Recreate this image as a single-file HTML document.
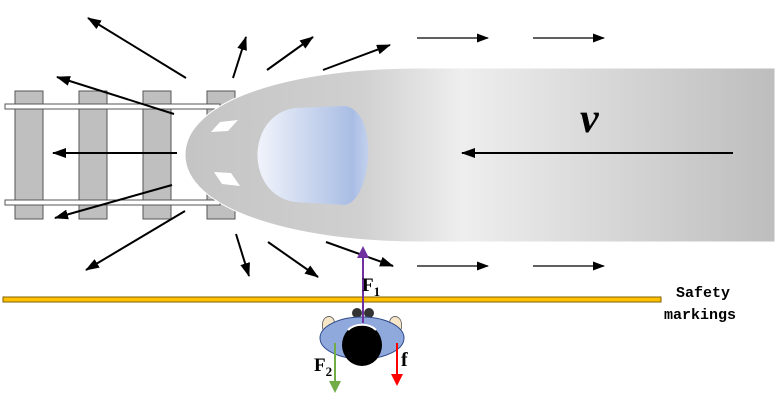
<!DOCTYPE html>
<html><head><meta charset="utf-8"><style>
html,body{margin:0;padding:0;background:#fff;}
svg{display:block;}
</style></head><body>
<svg width="778" height="410" viewBox="0 0 778 410" xmlns="http://www.w3.org/2000/svg">
<defs>
<linearGradient id="tr" x1="185" y1="0" x2="775" y2="0" gradientUnits="userSpaceOnUse">
<stop offset="0" stop-color="#c4c4c4"/><stop offset="0.3" stop-color="#d0d0d0"/><stop offset="0.47" stop-color="#eeeeee"/><stop offset="1" stop-color="#bdbdbd"/>
</linearGradient>
<linearGradient id="ws" x1="253" y1="0" x2="370" y2="0" gradientUnits="userSpaceOnUse">
<stop offset="0" stop-color="#f4f6fc"/><stop offset="0.85" stop-color="#a9bde4"/><stop offset="1" stop-color="#c6d3ee"/>
</linearGradient>
<marker id="ah" markerWidth="14" markerHeight="10" refX="13" refY="5" orient="auto" markerUnits="userSpaceOnUse"><path d="M0,0 L14,5 L0,10 z" fill="#000"/></marker>
<marker id="ahs" markerWidth="12" markerHeight="9" refX="11" refY="4.5" orient="auto" markerUnits="userSpaceOnUse"><path d="M0,0 L12,4.5 L0,9 z" fill="#000"/></marker>
<marker id="ahp" markerWidth="12" markerHeight="12" refX="10" refY="6" orient="auto" markerUnits="userSpaceOnUse"><path d="M0,0 L12,6 L0,12 z" fill="#7030a0"/></marker>
<marker id="ahg" markerWidth="12" markerHeight="12" refX="10" refY="6" orient="auto" markerUnits="userSpaceOnUse"><path d="M0,0 L12,6 L0,12 z" fill="#70ad47"/></marker>
<marker id="ahr" markerWidth="12" markerHeight="12" refX="10" refY="6" orient="auto" markerUnits="userSpaceOnUse"><path d="M0,0 L12,6 L0,12 z" fill="#ff0000"/></marker>
</defs>
<g fill="#bfbfbf" stroke="#555" stroke-width="1">
<rect x="15" y="91" width="28" height="128"/>
<rect x="79" y="91" width="28" height="128"/>
<rect x="143" y="91" width="28" height="128"/>
<rect x="207" y="91" width="28" height="128"/>
</g>
<g fill="#fff" stroke="#555" stroke-width="1">
<rect x="5" y="104" width="215" height="5"/>
<rect x="5" y="200" width="215" height="5"/>
</g>
<path d="M775,68 L420,68 C290,68 185,100 185,155 C185,208 290,242 420,242 L775,242 Z" fill="url(#tr)" stroke="#fff" stroke-width="1"/>
<path d="M345,106 C380,112 372,200 345,205 L295,202 C245,195 245,115 295,108 Z" fill="url(#ws)"/>
<path d="M220,122 L238,120 L228,131 L211,132 Z" fill="#fff"/>
<path d="M214,172 L231,173 L240,186 L222,184 Z" fill="#fff"/>
<g stroke="#000" stroke-width="2" fill="none" marker-end="url(#ah)">
<line x1="186" y1="78" x2="88" y2="18"/>
<line x1="233" y1="78" x2="246" y2="37"/>
<line x1="267" y1="70" x2="313" y2="37"/>
<line x1="323" y1="70" x2="390" y2="45"/>
<line x1="174" y1="114" x2="57" y2="77"/>
<line x1="177" y1="153" x2="53" y2="153"/>
<line x1="172" y1="185" x2="55" y2="218"/>
<line x1="185" y1="211" x2="86" y2="270"/>
<line x1="236" y1="234" x2="249" y2="276"/>
<line x1="268" y1="242" x2="318" y2="277"/>
<line x1="326" y1="242" x2="393" y2="266"/>
<line x1="733" y1="153" x2="462" y2="153"/>
</g>
<g stroke="#000" stroke-width="1.3" fill="none" marker-end="url(#ahs)">
<line x1="417" y1="38" x2="488" y2="38"/>
<line x1="533" y1="38" x2="604" y2="38"/>
<line x1="417" y1="266" x2="488" y2="266"/>
<line x1="533" y1="266" x2="604" y2="266"/>
</g>
<text x="580" y="132" font-family="Liberation Serif, serif" font-style="italic" font-weight="bold" font-size="42">v</text>
<rect x="3" y="297" width="658" height="5" fill="#ffc000" stroke="#7f6000" stroke-width="1"/>
<text x="676" y="297" font-family="Liberation Mono, monospace" font-weight="bold" font-size="15">Safety</text>
<text x="664" y="319" font-family="Liberation Mono, monospace" font-weight="bold" font-size="15">markings</text>
<path d="M324,333 C318,318 330,312 334,320 L336,332 Z" fill="#f5e6c8" stroke="#555" stroke-width="0.8"/>
<path d="M400,333 C406,318 394,312 390,320 L388,332 Z" fill="#f5e6c8" stroke="#555" stroke-width="0.8"/>
<ellipse cx="357" cy="313" rx="5" ry="5" fill="#333"/>
<ellipse cx="369" cy="313" rx="5" ry="5" fill="#333"/>
<ellipse cx="362" cy="338" rx="42" ry="21" fill="#8fa9dc" stroke="#2f4a8a" stroke-width="1"/>
<ellipse cx="362" cy="345" rx="20" ry="21" fill="#000"/>
<path d="M348,330 C355,323 369,323 376,330" stroke="#fff" stroke-width="2" fill="none"/>
<line x1="363" y1="323" x2="363" y2="248" stroke="#7030a0" stroke-width="2" marker-end="url(#ahp)"/>
<line x1="335" y1="343" x2="335" y2="391" stroke="#70ad47" stroke-width="2" marker-end="url(#ahg)"/>
<line x1="397" y1="343" x2="397" y2="384" stroke="#ff0000" stroke-width="2" marker-end="url(#ahr)"/>
<text x="362" y="291" font-family="Liberation Serif, serif" font-weight="bold" font-size="19">F<tspan font-size="13" dy="5">1</tspan></text>
<text x="314" y="371" font-family="Liberation Serif, serif" font-weight="bold" font-size="19">F<tspan font-size="13" dy="5">2</tspan></text>
<text x="401" y="366" font-family="Liberation Serif, serif" font-weight="bold" font-size="20">f</text>
</svg>
</body></html>
